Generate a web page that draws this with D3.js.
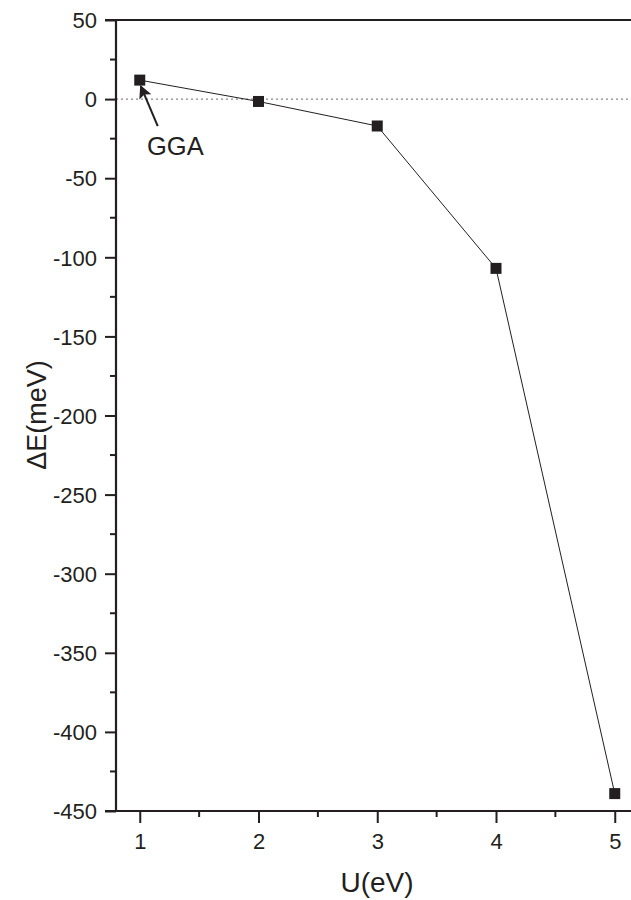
<!DOCTYPE html>
<html>
<head>
<meta charset="utf-8">
<script src="https://cdn.jsdelivr.net/npm/d3@7"></script>
<style>
  body { margin: 0; background: #fff; }
  text { font-family: "Liberation Sans", Arial, sans-serif; fill: #231f20; }
</style>
</head>
<body>
<div id="chart"></div>
<script>
// data
var uValues = [1, 2, 3, 4, 5];
var dE = [12, -1.5, -17, -107, -439];
var xTicks = [1, 2, 3, 4, 5];
var yTicks = [50, 0, -50, -100, -150, -200, -250, -300, -350, -400, -450];

var svgWidth = 631, svgHeight = 900;

var svg = d3.select("#chart")
  .append("svg")
  .attr("width", svgWidth)
  .attr("height", svgHeight);

var xScale = d3.scaleLinear().domain([0.8, 5.2]).range([116, 116 + 4.4 * 118.75]);
var yScale = d3.scaleLinear().domain([50, -450]).range([20, 811]);

var ink = "#231f20";

// zero reference line
svg.append("line")
  .attr("x1", xScale(0.8)).attr("x2", svgWidth)
  .attr("y1", yScale(0)).attr("y2", yScale(0))
  .attr("stroke", "#888").attr("stroke-width", 1.2)
  .attr("stroke-dasharray", "2,3");

// minor tick positions
var xMinor = d3.range(1.5, 5.2, 1);
var yMinor = d3.range(25, -450, -50);

// left axis
var yAxis = d3.axisLeft(yScale).tickValues(yTicks).tickSize(11).tickPadding(8)
  .tickFormat(function(d) { return String(d); });
var gy = svg.append("g").attr("transform", "translate(116,0)").call(yAxis);
gy.selectAll(".tick text").style("font-size", "22px").attr("dy", "0.35em");
gy.selectAll(".tick line").attr("stroke", ink).attr("stroke-width", 2);
gy.select(".domain").attr("stroke", ink).attr("stroke-width", 2.2)
  .attr("d", "M0," + yScale(-450) + "V" + yScale(50));
gy.selectAll(".minor").data(yMinor).enter().append("line")
  .attr("x1", -6).attr("x2", 0)
  .attr("y1", function(d) { return yScale(d); })
  .attr("y2", function(d) { return yScale(d); })
  .attr("stroke", ink).attr("stroke-width", 2);

// bottom axis
var xAxis = d3.axisBottom(xScale).tickValues(xTicks).tickSize(12).tickPadding(10)
  .tickFormat(d3.format("d"));
var gx = svg.append("g").attr("transform", "translate(0,811)").call(xAxis);
gx.selectAll(".tick text").style("font-size", "22px");
gx.selectAll(".tick line").attr("stroke", ink).attr("stroke-width", 2);
gx.select(".domain").attr("stroke", ink).attr("stroke-width", 2.2)
  .attr("d", "M105,0H" + svgWidth);
gx.selectAll(".minor").data(xMinor).enter().append("line")
  .attr("x1", function(d) { return xScale(d); })
  .attr("x2", function(d) { return xScale(d); })
  .attr("y1", 0).attr("y2", 6)
  .attr("stroke", ink).attr("stroke-width", 2);

// top frame line
svg.append("line")
  .attr("x1", 105).attr("x2", svgWidth)
  .attr("y1", yScale(50)).attr("y2", yScale(50))
  .attr("stroke", ink).attr("stroke-width", 2.2);

// axis titles
svg.append("text")
  .attr("x", 377).attr("y", 892)
  .attr("text-anchor", "middle")
  .style("font-size", "28px")
  .text("U(eV)");
svg.append("text")
  .attr("transform", "translate(46,415) rotate(-90)")
  .attr("text-anchor", "middle")
  .style("font-size", "27px")
  .text("\u0394E(meV)");

// series line
var pts = uValues.map(function(u, i) { return { u: u, e: dE[i] }; });
svg.append("path")
  .datum(pts)
  .attr("fill", "none")
  .attr("stroke", ink)
  .attr("stroke-width", 1)
  .attr("d", d3.line()
    .x(function(d) { return xScale(d.u); })
    .y(function(d) { return yScale(d.e); }));

svg.append("g")
  .selectAll("rect")
  .data(pts)
  .enter()
  .append("rect")
  .attr("x", function(d) { return xScale(d.u) - 5.5; })
  .attr("y", function(d) { return yScale(d.e) - 5.5; })
  .attr("width", 11).attr("height", 11)
  .attr("fill", ink);

// GGA annotation
svg.append("defs").append("marker")
  .attr("id", "arr").attr("viewBox", "0 0 10 10")
  .attr("refX", 9).attr("refY", 5)
  .attr("markerWidth", 16).attr("markerHeight", 13)
  .attr("markerUnits", "userSpaceOnUse")
  .attr("orient", "auto")
  .append("path").attr("d", "M0,0L10,5L0,10L2,5Z").attr("fill", ink);
svg.append("line")
  .attr("x1", xScale(1) + 18).attr("y1", yScale(12) + 46)
  .attr("x2", xScale(1) + 1).attr("y2", yScale(12) + 6)
  .attr("stroke", ink).attr("stroke-width", 2)
  .attr("marker-end", "url(#arr)");
svg.append("text")
  .attr("x", 147).attr("y", 155)
  .style("font-size", "25.5px")
  .text("GGA");
</script>
</body>
</html>
